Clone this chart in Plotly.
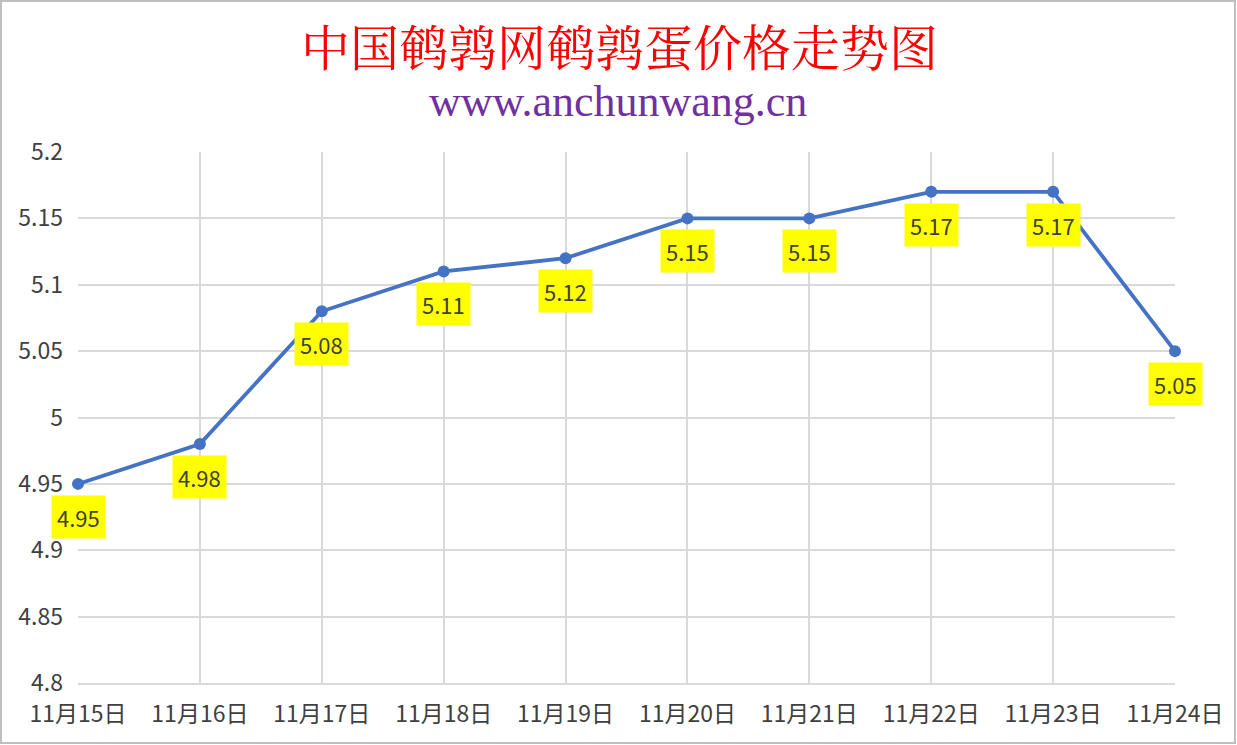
import plotly.graph_objects as go

dates = ["11月15日", "11月16日", "11月17日", "11月18日", "11月19日",
         "11月20日", "11月21日", "11月22日", "11月23日", "11月24日"]
prices = [4.95, 4.98, 5.08, 5.11, 5.12, 5.15, 5.15, 5.17, 5.17, 5.05]
y_ticks = [4.8, 4.85, 4.9, 4.95, 5, 5.05, 5.1, 5.15, 5.2]

W, H = 1237, 745
L, R, T, B = 78, 62, 152, 62
pw, ph = W - L - R, H - T - B

fig = go.Figure()
fig.add_trace(go.Scatter(
    x=dates, y=prices, mode="lines+markers",
    line=dict(color="#4472C4", width=3.8),
    marker=dict(color="#4472C4", size=12),
    cliponaxis=False, hoverinfo="x+y",
))

# yellow value labels under each point
for d, p in zip(dates, prices):
    fig.add_annotation(
        x=d, y=p, xref="x", yref="y", text=str(p), showarrow=False,
        yshift=-33, bgcolor="#FFFF00", borderpad=5,
        font=dict(family="Noto Sans CJK SC", size=22, color="#404040"),
    )

fig.add_annotation(
    x=(619 - L) / pw, y=(ph + T - 45) / ph,
    xref="paper", yref="paper", text="中国鹌鹑网鹌鹑蛋价格走势图",
    showarrow=False, yanchor="middle", borderpad=0,
    font=dict(family="Noto Serif CJK SC, Noto Sans CJK SC", size=49, color="#FF0000"),
)
fig.add_annotation(
    x=(618 - L) / pw, y=(ph + T - 102) / ph,
    xref="paper", yref="paper", text="www.anchunwang.cn",
    showarrow=False, yanchor="middle", borderpad=0,
    font=dict(family="Liberation Serif", size=44, color="#7030A0"),
)

# outer border of the picture
fig.add_shape(
    type="rect", xref="paper", yref="paper",
    x0=(1 - L) / pw, x1=(W - 2 - L) / pw,
    y0=-(B - 2) / ph, y1=(ph + T - 1) / ph,
    line=dict(color="#BFBFBF", width=2),
)

fig.update_xaxes(
    type="category", range=[0, len(dates) - 1],
    showgrid=True, gridcolor="#D9D9D9", gridwidth=1.5,
    showline=True, linecolor="#D9D9D9", linewidth=1.5,
    ticks="", ticklabelstandoff=10,
    tickfont=dict(family="Noto Sans CJK SC", size=23, color="#404040"),
    zeroline=False,
)
fig.update_yaxes(
    range=[4.8, 5.2], tickvals=y_ticks, ticktext=[f"{v:g}" for v in y_ticks],
    showgrid=True, gridcolor="#D9D9D9", gridwidth=1.5,
    ticks="", ticklabelstandoff=14, zeroline=False,
    tickfont=dict(family="Noto Sans CJK SC", size=23, color="#404040"),
)
fig.update_layout(
    width=W, height=H, margin=dict(l=L, r=R, t=T, b=B),
    paper_bgcolor="white", plot_bgcolor="white", showlegend=False,
)

fig.write_html("out.html", config={"displayModeBar": False},
               post_script="document.body.style.margin='0';")
